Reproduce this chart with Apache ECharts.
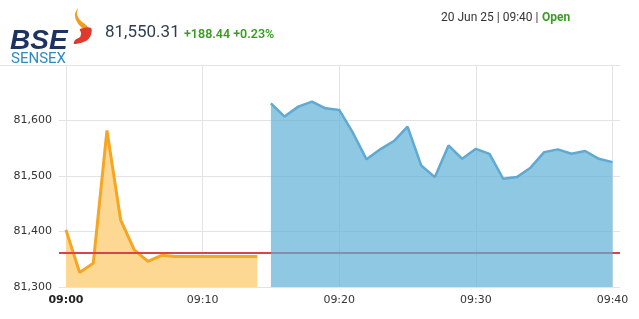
<!DOCTYPE html>
<html>
<head>
<meta charset="utf-8">
<script src="https://cdn.jsdelivr.net/npm/echarts@6/dist/echarts.min.js"></script>
<style>html,body{margin:0;padding:0;background:#fff}#c{width:639px;height:319px}</style>
</head>
<body>
<div id="c"></div>
<script>
// minutes after 09:00
const preMinutes = [0,1,2,3,4,5,6,7,8,9,10,11,12,13,14];
const preValues  = [81403,81326,81343,81582,81421,81367,81346,81357,81355,81355,81355,81355,81355,81355,81355];
const mktMinutes = [15,16,17,18,19,20,21,22,23,24,25,26,27,28,29,30,31,32,33,34,35,36,37,38,39,40];
const mktValues  = [81631,81607,81625,81634,81622,81619,81578,81530,81548,81563,81589,81519,81498,81555,81531,81549,81540,81495,81498,81515,81543,81548,81540,81545,81531,81525];
const prevClose = 81361.87;
const xTickMinutes = [0,10,20,30,40];
const xTickLabels = ['09:00','09:10','09:20','09:30','09:40'];
const yTicks = [81300,81400,81500,81600,81700];

const chart = echarts.init(document.getElementById('c'), null, {renderer:'canvas'});
const fmt = v => v.toLocaleString('en-US');
const preData = preMinutes.map((m,i)=>[m, preValues[i]]);
const mktData = mktMinutes.map((m,i)=>[m, mktValues[i]]);

chart.setOption({
  animation:false,
  backgroundColor:'#fff',
  grid:{left:59,right:19,top:65,bottom:32,containLabel:false},
  xAxis:{
    type:'value', min:-0.51, max:40.55,
    axisLine:{show:false},
    splitLine:{show:false},
    axisTick:{show:true, inside:true, length:222, customValues:xTickMinutes, lineStyle:{color:'#e3e3e3',width:1}},
    axisLabel:{
      customValues:xTickMinutes, margin:8,
      fontFamily:'DejaVu Sans', fontSize:11, color:'#333',
      formatter:v=>{const i=xTickMinutes.indexOf(v); const t=i>=0?xTickLabels[i]:''; return i===0?'{b|'+t+'}':t;},
      rich:{b:{fontWeight:'bold',fontFamily:'DejaVu Sans',fontSize:11,color:'#222'}}
    }
  },
  yAxis:{
    type:'value', min:yTicks[0], max:yTicks[yTicks.length-1], interval:100,
    axisLine:{show:false}, axisTick:{show:false},
    splitLine:{lineStyle:{color:'#e3e3e3',width:1}},
    axisLabel:{margin:7,fontFamily:'DejaVu Sans',fontSize:11,color:'#333',
      formatter:v=> v===yTicks[yTicks.length-1]?'':fmt(v)}
  },
  series:[
    {type:'line', data:preData, z:2, showSymbol:false, smooth:false,
     lineStyle:{color:'#f5a623',width:3},
     itemStyle:{color:'#f5a623'},
     areaStyle:{color:'#fdd892',opacity:1},
     markLine:{silent:true, symbol:'none', z:5, label:{show:false},
       lineStyle:{color:'#d9434a',width:2,type:'solid'},
       data:[{yAxis:prevClose}]}
    },
    {type:'line', data:mktData, z:10, showSymbol:false, smooth:false,
     lineStyle:{color:'#5fa9d3',width:2.5},
     itemStyle:{color:'#5fa9d3'},
     areaStyle:{color:'rgba(94,176,215,0.7)',opacity:1}
    }
  ],
  graphic:[
    {type:'line', shape:{x1:0,y1:65.5,x2:59,y2:65.5}, style:{stroke:'#e3e3e3',lineWidth:1}},
    {type:'polygon', shape:{smooth:0.3, points:[[78,8],[77,14],[80,20],[86,25],[90,30],[85,30],[80,26],[76,20],[75,14]]}, style:{fill:'#f39c1f'}},
    {type:'polygon', shape:{smooth:0.3, points:[[80,29],[91,28],[91,35],[86,41],[74,44],[75,40],[80,37],[81,33]]}, style:{fill:'#e0392e'}},
    {type:'text', left:10, top:27, style:{text:'BSE', font:'italic bold 28px "Liberation Sans"', fill:'#1d3461'}},
    {type:'text', left:11, top:52, style:{text:'SENSEX', font:'15px Roboto', fill:'#2a8cbf'}},
    {type:'text', left:105, top:24, style:{text:'81,550.31', font:'17px Roboto', fill:'#2c3e50'}},
    {type:'text', left:184, top:28, style:{text:'+188.44 +0.23%', font:'600 12.5px Roboto', fill:'#3a9d23'}},
    {type:'text', left:441, top:12, style:{text:'20 Jun 25 | 09:40 | ', font:'12px Roboto', fill:'#333'}},
    {type:'text', left:542, top:12, style:{text:'Open', font:'bold 12px Roboto', fill:'#3a9d23'}}
  ]
});
</script>
</body>
</html>
